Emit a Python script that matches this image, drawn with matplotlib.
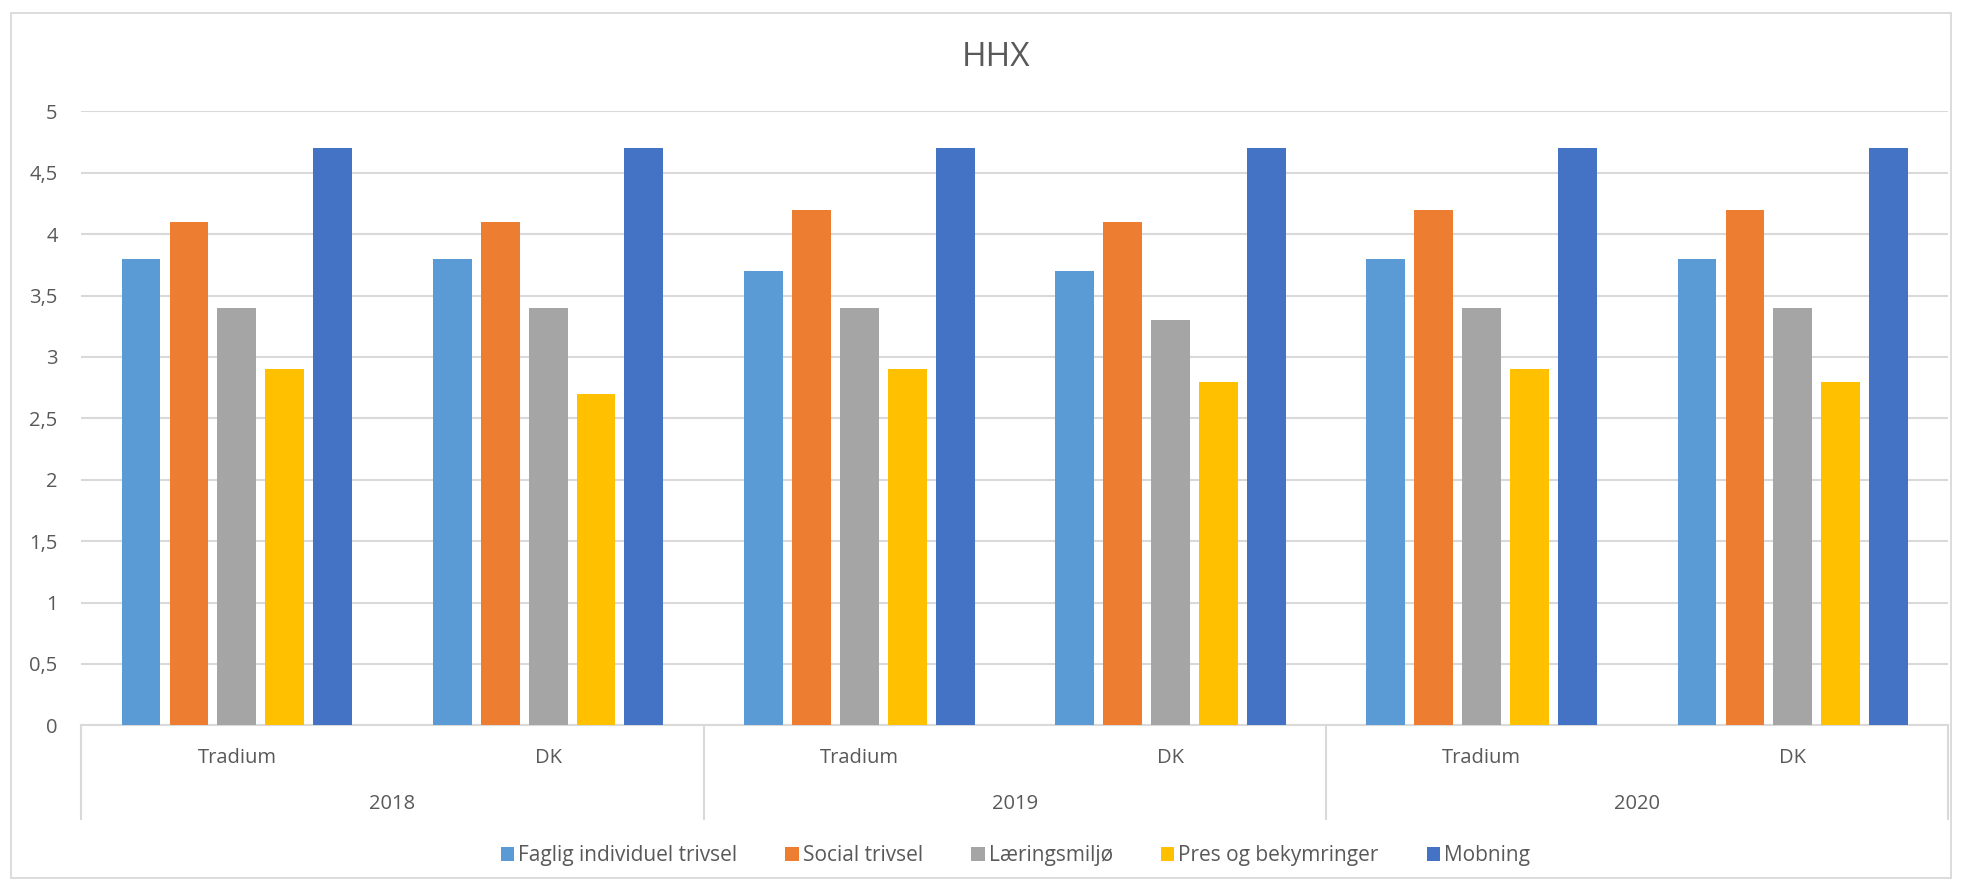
import matplotlib.pyplot as plt
from matplotlib.patches import Rectangle, Patch
from matplotlib.transforms import blended_transform_factory
import numpy as np

plt.rcParams['font.family'] = ['Open Sans', 'DejaVu Sans']

years = ['2018', '2019', '2020']
groups = ['Tradium', 'DK', 'Tradium', 'DK', 'Tradium', 'DK']
series = ['Faglig individuel trivsel', 'Social trivsel', 'Læringsmiljø',
          'Pres og bekymringer', 'Mobning']
faglig = [3.8, 3.8, 3.7, 3.7, 3.8, 3.8]
social = [4.1, 4.1, 4.2, 4.1, 4.2, 4.2]
laering = [3.4, 3.4, 3.4, 3.3, 3.4, 3.4]
pres = [2.9, 2.7, 2.9, 2.8, 2.9, 2.8]
mobning = [4.7, 4.7, 4.7, 4.7, 4.7, 4.7]
values = [faglig, social, laering, pres, mobning]
colors = ['#5B9BD5', '#ED7D31', '#A5A5A5', '#FFC000', '#4472C4']

# layout measured on a 1568x710 view of the reference
W, H = 1568, 710
fig = plt.figure(figsize=(19.61, 8.88), dpi=100)
fig.patches.append(Rectangle((9 / W, 1 - 702 / H), 1551 / W, 692 / H,
                             transform=fig.transFigure, fill=False,
                             edgecolor='#D9D9D9', linewidth=1.3))
ax = fig.add_axes([65 / W, 1 - 580 / H, (1558 - 65) / W, (580 - 89) / H])

txt = '#595959'
x = np.arange(len(groups))
step = 0.154
for i, (name, vals, c) in enumerate(zip(series, values, colors)):
    ax.bar(x + (i - 2) * step, vals, width=0.125, color=c, label=name, zorder=3)

ax.set_xlim(-0.5, len(groups) - 0.5)
ax.set_ylim(0, 5)
ax.set_yticks(np.arange(0, 5.01, 0.5))
ax.set_yticklabels([f'{v:g}'.replace('.', ',') for v in np.arange(0, 5.01, 0.5)])
ax.tick_params(axis='y', length=0, labelsize=14.5, labelcolor=txt, pad=17)
ax.tick_params(axis='x', length=0, labelbottom=False)
ax.grid(axis='y', color='#D9D9D9', linewidth=1.5, zorder=0)
for s in ['top', 'right', 'left']:
    ax.spines[s].set_visible(False)
ax.spines['bottom'].set_color('#D9D9D9')
ax.spines['bottom'].set_linewidth(1.5)

# multi-level category axis
tr = blended_transform_factory(ax.transData, ax.transAxes)
depth = 75 / 491
for xs in [-0.5, 1.5, 3.5, 5.5]:
    ax.plot([xs, xs], [0, -depth], transform=tr, color='#D9D9D9',
            linewidth=1.5, clip_on=False)
for xi, g in zip(x, groups):
    ax.text(xi, -26 / 491, g, transform=tr, ha='center', va='center',
            fontsize=14.5, color=txt)
for k, yr in enumerate(years):
    ax.text(2 * k + 0.5, -63 / 491, yr, transform=tr, ha='center', va='center',
            fontsize=14.5, color=txt)

fig.text(796 / W, 1 - 46 / H, 'HHX', ha='center', va='center',
         fontsize=24, color=txt)

handles = [Patch(facecolor=c, label=n) for n, c in zip(series, colors)]
fig.legend(handles=handles, loc='center', bbox_to_anchor=(812 / W, 1 - 684 / H),
           ncol=5, frameon=False, fontsize=15, labelcolor=txt,
           handlelength=0.65, handleheight=0.65, handletextpad=0.2, columnspacing=2.3)

fig.savefig('out.png', dpi=100)
